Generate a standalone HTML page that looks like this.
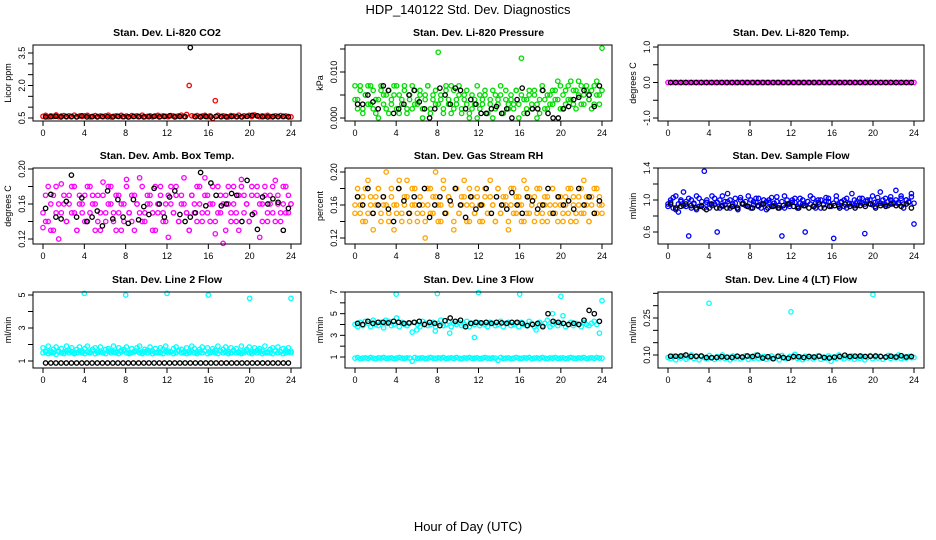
<!DOCTYPE html>
<html><head><meta charset="utf-8"><style>
body{margin:0;background:#fff}
svg{display:block;font-family:"Liberation Sans",Arial,sans-serif}
</style></head><body>
<svg id="c" width="936" height="540" viewBox="0 0 936 540">
<text x="468" y="14" text-anchor="middle" font-size="13">HDP_140122  Std. Dev. Diagnostics</text>
<text x="468" y="531" text-anchor="middle" font-size="13">Hour of Day (UTC)</text>
</svg>
<script>
// ---- data ----
const xTicks=[0,4,8,12,16,20,24];
const p1Color=[.58,.62,.55,.6,.57,.64,.56,.59,.61,.55,.6,.58,.63,.56,.59,.57,.6,.62,.55,.58,.61,.57,.59,.56,.6,.63,.55,.58,.6,.57,.62,.56,.59,.55,.61,.58,.6,.57,.63,.56,.58,.6,.55,.59,.62,.57,.6,.58,.56,.61,.59,.57,.6,.63,.58,.66,2.0,.6,.58,.61,.57,.59,.62,.56,.6,.48,1.3,.62,.57,.6,.58,.55,.61,.59,.57,.63,.56,.6,.58,.62,.57,.64,.59,.56,.6,.58,.62,.57,.55,.6,.58,.61,.56,.59,.57,.55];
const p1Black=[.55,.56,.58,.55,.57,.56,.55,.6,.55,.56,.55,.57,.56,.55,.58,.56,.55,.57,.56,.55,.56,.58,.55,.57,.6,.55,.57,.56,3.75,.56,.55,.57,.55,.58,.56,.55,.57,.56,.55,.58,.62,.6,.56,.55,.57,.56,.58,.55];
const p2Color=[.004,.002,.007,.001,.005,.003,.007,.002,.004,0,.006,.003,.005,.001,.004,.007,.002,.005,.003,.007,.001,.004,.002,.006,.003,.005,0,.004,.007,.002,.005,.003,.0143,.004,.001,.006,.003,.007,.002,.004,.007,.001,.005,.003,0,.002,.004,0,.005,.003,.006,.001,.004,0,.005,.003,.007,.001,.004,.002,.005,.003,.006,0,.013,.004,.002,.005,.003,.006,0,.004,.007,.002,.005,.003,.006,.004,.008,.002,.005,.003,.007,.004,.006,.002,.008,.003,.005,.007,.004,.006,.003,.008,.005,.0152];
const p2Color2=[.007,.004,.006,.002,.005,.007,.003,.006,.001,.004,.007,.005,.002,.006,.003,.005,.007,.001,.004,.006,.002,.005,.007,.003,.004,.006,.002,.005,.007,.001,.004,.006,.003,.005,.002,.007,.004,.001,.006,.003,.005,.002,.004,.006,.001,.005,.003,.007,.002,.004,.005,.001,.003,.006,.002,.004,.005,.001,.006,.003,.004,.002,.006,.003,.005,.001,.004,.006,.002,.005,.003,.001,.006,.004,.002,.005,.003,.006,.004,.007,.002,.006,.004,.008,.003,.006,.005,.007,.003,.006,.004,.002,.007,.005,.003,.006];
const p2Black=[.003,.003,.005,.0035,.002,.007,.006,.001,.002,.003,.005,.006,.0035,.002,0,.002,.0065,.005,.003,.0065,.006,.002,.004,.003,.001,.001,.002,.0025,.001,.002,0,.004,.0065,.001,.002,.002,.006,.001,0,0,.002,.0025,.004,.0045,.006,.005,.0025,.007];
const p3Color=[0,0,0,0,0,0,0,0,0,0,0,0,0,0,0,0,0,0,0,0,0,0,0,0,0,0,0,0,0,0,0,0,0,0,0,0,0,0,0,0,0,0,0,0,0,0,0,0,0,0,0,0,0,0,0,0,0,0,0,0,0,0,0,0,0,0,0,0,0,0,0,0,0,0,0,0,0,0,0,0,0,0,0,0,0,0,0,0,0,0,0,0,0,0,0,0];
const p3Black=[0,0,0,0,0,0,0,0,0,0,0,0,0,0,0,0,0,0,0,0,0,0,0,0,0,0,0,0,0,0,0,0,0,0,0,0,0,0,0,0,0,0,0,0,0,0,0,0];
const p4Color=[.133,.14,.18,.13,.17,.15,.12,.183,.16,.14,.17,.15,.18,.13,.16,.15,.17,.14,.18,.16,.13,.17,.15,.185,.14,.16,.18,.15,.13,.17,.16,.14,.188,.15,.17,.13,.16,.19,.14,.15,.17,.16,.13,.18,.15,.17,.14,.16,.122,.18,.15,.17,.14,.16,.19,.15,.13,.17,.16,.14,.18,.15,.19,.17,.14,.16,.126,.18,.15,.115,.17,.16,.14,.18,.15,.13,.188,.17,.16,.14,.18,.15,.17,.122,.16,.18,.14,.17,.15,.187,.16,.14,.18,.15,.17,.16];
const p4Color2=[.15,.17,.14,.16,.13,.18,.16,.15,.17,.14,.16,.18,.15,.13,.17,.16,.14,.18,.15,.17,.16,.14,.13,.17,.15,.18,.16,.14,.17,.15,.13,.16,.18,.15,.14,.17,.16,.15,.18,.14,.16,.17,.15,.13,.16,.18,.15,.14,.17,.16,.15,.18,.14,.17,.16,.15,.13,.17,.15,.18,.16,.14,.17,.15,.16,.18,.14,.15,.17,.16,.13,.18,.15,.16,.14,.17,.18,.15,.16,.14,.17,.15,.18,.16,.14,.17,.15,.16,.18,.14,.17,.15,.16,.18,.15,.16];
const p4Black=[.155,.171,.145,.143,.163,.193,.145,.167,.14,.145,.152,.135,.175,.143,.165,.145,.138,.165,.142,.157,.148,.178,.16,.145,.168,.175,.148,.14,.145,.15,.196,.158,.184,.17,.158,.16,.172,.17,.14,.187,.148,.131,.168,.16,.166,.162,.13,.155];
const p5Color=[.16,.18,.15,.17,.14,.19,.16,.15,.17,.18,.14,.16,.2,.15,.17,.13,.16,.18,.15,.17,.19,.14,.16,.18,.15,.17,.16,.14,.18,.15,.17,.2,.16,.14,.18,.15,.17,.16,.13,.18,.15,.17,.19,.16,.14,.17,.15,.18,.16,.14,.17,.15,.19,.16,.14,.18,.15,.17,.16,.13,.18,.15,.17,.16,.14,.19,.15,.17,.16,.14,.18,.16,.15,.17,.14,.16,.18,.15,.17,.16,.14,.17,.15,.18,.16,.14,.17,.15,.19,.16,.14,.17,.15,.18,.16,.15];
const p5Color2=[.15,.17,.16,.14,.18,.15,.17,.13,.16,.18,.15,.17,.16,.14,.18,.16,.15,.19,.14,.16,.17,.15,.18,.16,.14,.17,.15,.12,.16,.18,.15,.17,.14,.16,.19,.15,.17,.16,.14,.18,.15,.16,.17,.14,.18,.16,.15,.17,.14,.16,.18,.15,.17,.16,.14,.18,.15,.16,.17,.14,.16,.18,.15,.17,.16,.14,.18,.15,.16,.17,.15,.18,.14,.16,.17,.15,.18,.16,.14,.17,.15,.16,.18,.14,.17,.15,.16,.18,.15,.17,.14,.16,.18,.15,.17,.16];
const p5Black=[.17,.16,.18,.15,.16,.17,.155,.14,.18,.165,.15,.17,.16,.18,.145,.16,.17,.15,.165,.18,.16,.145,.17,.155,.16,.18,.15,.17,.16,.155,.175,.16,.15,.17,.165,.155,.16,.18,.15,.17,.16,.165,.155,.18,.16,.17,.15,.165];
const p6Color=[.95,1.0,.9,1.05,.85,.98,1.1,.92,.55,1.0,.95,.88,1.02,.93,1.36,.97,.9,1.05,.95,.6,1.0,.92,.98,1.08,.9,.95,1.02,.88,1.0,.96,.93,1.05,.9,.98,1.02,.92,.95,1.0,.88,.97,1.03,.93,.98,.9,.55,1.05,.95,.92,1.0,.97,.9,1.02,.95,.6,.98,1.05,.92,.96,1.0,.9,.95,1.03,.98,.93,.52,1.05,.92,.97,1.0,.9,.95,1.08,.93,.98,1.02,.96,.58,1.0,.95,1.05,.92,.98,1.1,.95,1.02,.93,1.0,.97,1.12,.95,1.05,.9,1.0,.97,1.08,.7];
const p6Color2=[.92,.97,1.03,.88,.95,1.0,.93,.98,1.02,.9,.96,1.05,.92,.98,.9,1.0,.95,.93,1.02,.97,.9,1.05,.94,.98,1.0,.92,.96,.9,1.03,.95,.98,.92,1.0,.94,.97,1.02,.9,.95,.98,1.0,.92,.96,1.04,.93,.98,.9,1.0,.95,.97,1.02,.92,.96,1.0,.93,.98,.95,1.02,.9,.97,1.0,.94,.98,1.02,.92,.96,1.0,.94,.98,.92,1.02,.96,.95,1.0,.93,.97,1.02,.95,.98,1.0,.94,.97,1.03,.96,1.0,.94,.98,1.04,.95,1.0,.97,1.02,.95,1.0,.98,1.04,.96];
const p6Black=[.95,.9,.92,.95,.93,.9,.92,.88,.95,.9,.93,.9,.92,.9,.95,.92,.9,.93,.95,.9,.92,.9,.93,.95,.92,.9,.93,.9,.92,.95,.9,.92,.93,.9,.95,.92,.9,.93,.92,.95,.9,.93,.92,.95,.93,.92,.95,.9];
const p7Color=[1.8,1.6,1.9,1.5,1.7,1.85,1.6,1.75,1.55,1.9,1.65,1.8,1.5,1.7,1.85,1.6,1.75,1.9,1.55,1.7,1.8,1.6,1.85,1.5,1.7,1.75,1.6,1.9,1.55,1.8,1.65,1.7,1.85,1.5,1.75,1.6,1.8,1.9,1.55,1.7,1.65,1.85,1.6,1.75,1.5,1.8,1.7,1.9,1.6,1.55,1.75,1.85,1.65,1.7,1.5,1.8,1.6,1.9,1.75,1.55,1.7,1.85,1.6,1.8,1.5,1.75,1.65,1.9,1.6,1.7,1.85,1.55,1.8,1.65,1.75,1.5,1.9,1.6,1.7,1.85,1.55,1.8,1.65,1.75,1.6,1.9,1.5,1.7,1.8,1.6,1.85,1.55,1.75,1.65,1.8,1.6];
const p7Color2=[1.5,1.55,1.45,1.6,1.5,1.4,1.55,1.5,1.45,1.6,1.5,1.55,1.45,1.5,1.6,1.5,1.45,1.55,1.5,1.6,1.45,1.5,1.55,1.5,1.45,1.6,1.5,1.55,1.5,1.45,1.55,1.6,1.5,1.45,1.5,1.55,1.6,1.5,1.45,1.55,1.5,1.6,1.45,1.5,1.55,1.5,1.45,1.6,1.5,1.55,1.45,1.5,1.6,1.5,1.55,1.45,1.5,1.6,1.5,1.45,1.55,1.5,1.6,1.45,1.5,1.55,1.5,1.45,1.6,1.5,1.55,1.45,1.5,1.6,1.5,1.55,1.45,1.5,1.6,1.5,1.45,1.55,1.5,1.6,1.45,1.5,1.55,1.5,1.45,1.6,1.5,1.55,1.45,1.5,1.55,1.5];
const p7Black=[.88,.88,.88,.88,.88,.88,.88,.88,.88,.88,.88,.88,.88,.88,.88,.88,.88,.88,.88,.88,.88,.88,.88,.88,.88,.88,.88,.88,.88,.88,.88,.88,.88,.88,.88,.88,.88,.88,.88,.88,.88,.88,.88,.88,.88,.88,.88,.88];
const p7OutHours=[4,8,12,16,20,24];
const p7OutVals=[5.1,5.0,5.1,5.0,4.8,4.8];
const p8Color=[4.0,3.8,4.2,3.9,4.3,4.1,3.8,4.4,4.0,3.9,4.2,3.7,4.1,4.3,3.9,4.0,4.6,3.8,4.2,4.0,3.9,4.1,3.3,4.2,4.0,3.8,4.3,4.1,3.9,4.0,4.2,3.8,4.1,4.4,3.9,4.0,4.3,3.8,4.1,4.0,4.2,3.9,4.0,4.3,3.8,4.1,4.0,4.2,3.9,4.1,4.0,3.8,4.2,4.1,3.9,4.0,4.3,3.8,4.1,4.2,3.9,4.0,4.1,3.8,4.2,4.0,3.9,4.3,4.1,3.8,4.0,4.2,3.9,4.1,4.4,3.8,4.0,4.2,3.9,4.1,4.8,3.8,4.0,4.2,3.9,4.1,4.0,3.8,4.2,4.0,3.9,4.1,4.3,4.0,3.2,6.2];
const p8Color2=[.9,.95,.85,.9,.92,.88,.95,.9,.85,.92,.9,.95,.88,.9,.92,.85,.9,.95,.9,.88,.92,.9,.6,.95,.88,.9,.92,.85,.9,.95,.9,.88,.92,.9,.95,.85,.9,.92,.88,.95,.9,.85,.92,.9,.95,.88,.9,.92,.85,.9,.95,.9,.88,.92,.9,.7,.95,.88,.9,.92,.85,.9,.95,.9,.88,.92,.9,.95,.85,.9,.92,.88,.95,.9,.85,.92,.9,.95,.88,.9,.92,.85,.9,.95,.9,.88,.92,.9,.95,.85,.9,.92,.88,.95,.9,.9];
const p8Black=[4.1,4.0,4.3,4.1,4.2,4.2,4.15,4.3,4.2,4.1,4.15,4.2,4.3,4.0,4.2,4.1,3.9,4.35,4.6,4.3,4.4,3.8,4.1,4.2,4.15,4.2,4.1,4.2,4.15,4.1,4.2,4.2,4.1,3.9,4.0,4.1,3.8,5.0,4.3,4.2,4.1,4.0,4.1,4.0,4.4,5.3,5.0,4.3];
const p8OutHours=[4,8,12,16,20,3,6,9.2,11.6,7.8,17.6,19.2];
const p8OutVals=[6.8,6.85,6.95,6.8,6.6,4.4,3.5,3.2,2.8,3.4,3.5,5.0];
const p9Color=[.09,.085,.095,.08,.092,.088,.097,.083,.09,.1,.086,.093,.08,.095,.089,.084,.098,.09,.082,.094,.088,.1,.085,.091,.08,.096,.088,.093,.084,.09,.097,.082,.092,.087,.1,.085,.091,.094,.083,.089,.096,.086,.092,.08,.098,.088,.085,.094,.09,.103,.086,.092,.081,.095,.088,.093,.084,.09,.097,.083,.091,.087,.096,.075,.092,.086,.1,.089,.084,.093,.088,.096,.083,.091,.087,.094,.08,.09,.097,.085,.092,.088,.095,.083,.09,.098,.086,.092,.088,.1,.085,.091,.087,.094,.089,.09];
const p9Black=[.095,.095,.096,.1,.094,.095,.096,.09,.089,.09,.093,.091,.09,.095,.092,.096,.094,.099,.088,.093,.085,.095,.09,.087,.094,.093,.09,.094,.092,.095,.09,.088,.091,.094,.099,.094,.095,.096,.094,.095,.096,.094,.092,.095,.092,.097,.092,.094];
const p9OutHours=[4,12,20];
const p9OutVals=[.31,.275,.345];

// ---- layout ----
const svg=document.getElementById('c');
const NS='http://www.w3.org/2000/svg';
const cols=[[33,301],[345,612],[658,924]];
const rows=[45,168,292];
const H=76;
const panels=[
 {name:'co2',title:'Stan. Dev. Li-820 CO2',ylab:'Licor ppm',col:'#ff0000',r:0,c:0,v1:.5,y1:118,v2:3.5,y2:53,ticks:[.5,1,1.5,2,2.5,3,3.5],labels:['0.5','','','2.0','','','3.5'],series:[p1Color],black:p1Black},
 {name:'pressure',title:'Stan. Dev. Li-820 Pressure',ylab:'kPa',col:'#00dd00',r:0,c:1,v1:0,y1:118,v2:.01,y2:72,ticks:[0,.005,.01,.015],labels:['0.000','','0.010',''],series:[p2Color,p2Color2],black:p2Black},
 {name:'temp',title:'Stan. Dev. Li-820 Temp.',ylab:'degrees C',col:'#ff00ff',r:0,c:2,v1:-1,y1:118,v2:1,y2:47,ticks:[-1,-.5,0,.5,1],labels:['-1.0','','0.0','','1.0'],series:[p3Color],black:p3Black},
 {name:'amb-box-temp',title:'Stan. Dev. Amb. Box Temp.',ylab:'degrees C',col:'#ff00ff',r:1,c:0,v1:.12,y1:239,v2:.2,y2:169,ticks:[.12,.14,.16,.18,.2],labels:['0.12','','0.16','','0.20'],series:[p4Color,p4Color2],black:p4Black},
 {name:'gas-stream-rh',title:'Stan. Dev. Gas Stream RH',ylab:'percent',col:'#ffa500',r:1,c:1,v1:.12,y1:238,v2:.2,y2:172,ticks:[.12,.14,.16,.18,.2],labels:['0.12','','0.16','','0.20'],series:[p5Color,p5Color2],black:p5Black},
 {name:'sample-flow',title:'Stan. Dev. Sample Flow',ylab:'ml/min',col:'#0000ff',r:1,c:2,v1:.6,y1:232,v2:1.4,y2:168,ticks:[.6,.8,1,1.2,1.4],labels:['0.6','','1.0','','1.4'],series:[p6Color,p6Color2],black:p6Black},
 {name:'line2-flow',title:'Stan. Dev. Line 2 Flow',ylab:'ml/min',col:'#00ffff',r:2,c:0,v1:1,y1:361,v2:5,y2:295,ticks:[1,2,3,4,5],labels:['1','','3','','5'],series:[p7Color,p7Color2],black:p7Black,oh:p7OutHours,ov:p7OutVals},
 {name:'line3-flow',title:'Stan. Dev. Line 3 Flow',ylab:'ml/min',col:'#00ffff',r:2,c:1,v1:1,y1:357,v2:7,y2:292,ticks:[1,2,3,4,5,6,7],labels:['1','','3','','5','','7'],series:[p8Color,p8Color2],black:p8Black,oh:p8OutHours,ov:p8OutVals},
 {name:'line4-flow',title:'Stan. Dev. Line 4 (LT) Flow',ylab:'ml/min',col:'#00ffff',r:2,c:2,v1:.1,y1:355,v2:.25,y2:318,ticks:[.1,.15,.2,.25,.3,.35],labels:['0.10','','','0.25','',''],series:[p9Color],black:p9Black,oh:p9OutHours,ov:p9OutVals}
];
function mk(tag,attrs,parent){const e=document.createElementNS(NS,tag);for(const k in attrs)e.setAttribute(k,attrs[k]);(parent||svg).appendChild(e);return e;}
panels.forEach(p=>{
 const L=cols[p.c][0],R=cols[p.c][1],T=rows[p.r],B=T+H;
 const g=mk('g',{});
 
 
 const xs=h=>L+10+(R-L-20)*h/24;
 const ys=v=>p.y1+(v-p.v1)*(p.y2-p.y1)/(p.v2-p.v1);
 const t=mk('text',{x:(L+R)/2,y:T-9,'text-anchor':'middle','font-size':'10.5','font-weight':'bold'},g);t.textContent=p.title;
 
 
 const clip=mk('g',{},g);
 p.series.forEach(s=>{s.forEach((v,i)=>{const c=mk('circle',{cx:xs(i*24/(s.length-1)).toFixed(1),cy:ys(v).toFixed(1),r:2.2,fill:'none',stroke:p.col,'stroke-width':1.3},clip);
  
  });});
 if(p.oh)p.oh.forEach((h,i)=>{const c=mk('circle',{cx:xs(h),cy:ys(p.ov[i]),r:2.2,fill:'none',stroke:p.col,'stroke-width':1.3},clip);
  
  });
 p.black.forEach((v,i)=>{const c=mk('circle',{cx:xs((i+0.5)*24/p.black.length).toFixed(1),cy:ys(v).toFixed(1),r:2.2,fill:'none',stroke:'#000','stroke-width':1.3},clip);
  
  });
 const box=mk('rect',{x:L,y:T,width:R-L,height:H,fill:'none',stroke:'#000','stroke-width':1},g);
 
 
 xTicks.forEach(h=>{mk('line',{x1:xs(h),x2:xs(h),y1:B,y2:B+5,stroke:'#000'},g);
  const tx=mk('text',{x:xs(h),y:B+15,'text-anchor':'middle','font-size':'9'},g);tx.textContent=h;
  
  });
 p.ticks.forEach((v,i)=>{const y=ys(v);mk('line',{x1:L-5,x2:L,y1:y,y2:y,stroke:'#000'},g);
  if(p.labels[i]){const tx=mk('text',{x:0,y:0,'text-anchor':'middle','font-size':'9',transform:`translate(${L-8},${y}) rotate(-90)`},g);tx.textContent=p.labels[i];
  
  }});
 const yl=mk('text',{x:0,y:0,'text-anchor':'middle','font-size':'9',transform:`translate(${L-22},${T+H/2}) rotate(-90)`},g);yl.textContent=p.ylab;
 
 
});
</script>
</body></html>
